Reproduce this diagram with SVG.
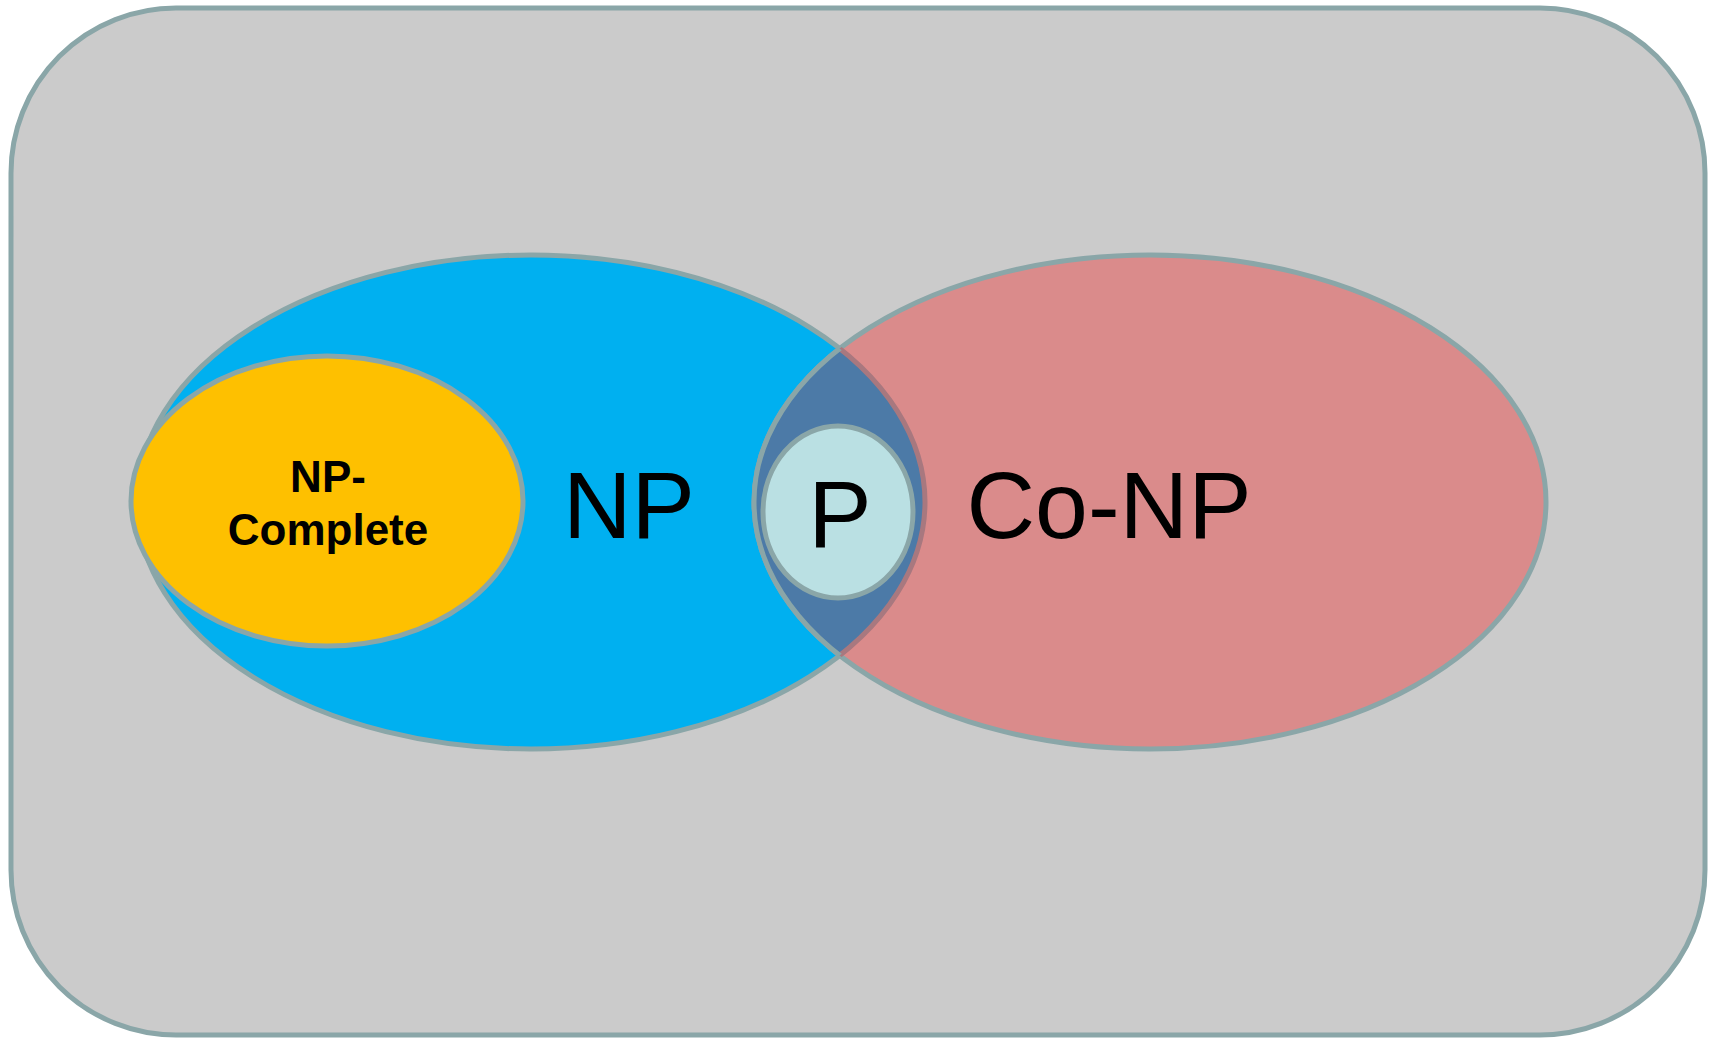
<svg xmlns="http://www.w3.org/2000/svg" width="1716" height="1040" viewBox="0 0 1716 1040">
<style>
.edge{stroke:#8aa6a8;stroke-width:5}
.lbl{font-family:"Liberation Sans",Arial,sans-serif;fill:#000;text-anchor:middle}
</style>
<defs>
<clipPath id="inCoNP"><ellipse cx="1150" cy="502" rx="396" ry="247"/></clipPath>
<clipPath id="inNP"><ellipse cx="531" cy="502" rx="394" ry="247"/></clipPath>
</defs>
<g id="universe">
<rect x="11" y="8" width="1694" height="1027" rx="165" ry="165" fill="#cbcbcb" class="edge"/>
</g>
<g id="np">
<ellipse cx="531" cy="502" rx="394" ry="247" fill="#00b0f0" class="edge"/>
<text class="lbl" x="629" y="538" font-size="95">NP</text>
</g>
<g id="conp">
<ellipse cx="1150" cy="502" rx="396" ry="247" fill="#da8b8b" class="edge"/>
<text class="lbl" x="1109" y="538" font-size="95">Co-NP</text>
</g>
<g id="intersection">
<ellipse cx="531" cy="502" rx="394" ry="247" fill="#4c7aa7" stroke="#a8787f" stroke-width="5" clip-path="url(#inCoNP)"/>
<ellipse cx="1150" cy="502" rx="396" ry="247" fill="none" class="edge" clip-path="url(#inNP)"/>
</g>
<g id="np-complete">
<ellipse cx="327" cy="501" rx="196" ry="145" fill="#fec000" class="edge"/>
<text class="lbl" x="328" y="492" font-size="44" font-weight="bold">NP-</text>
<text class="lbl" x="328" y="545" font-size="44" font-weight="bold">Complete</text>
</g>
<g id="p">
<ellipse cx="838" cy="512" rx="75" ry="86" fill="#bae0e3" class="edge"/>
<text class="lbl" x="840" y="547" font-size="95">P</text>
</g>
<g id="connectors"/>
</svg>
